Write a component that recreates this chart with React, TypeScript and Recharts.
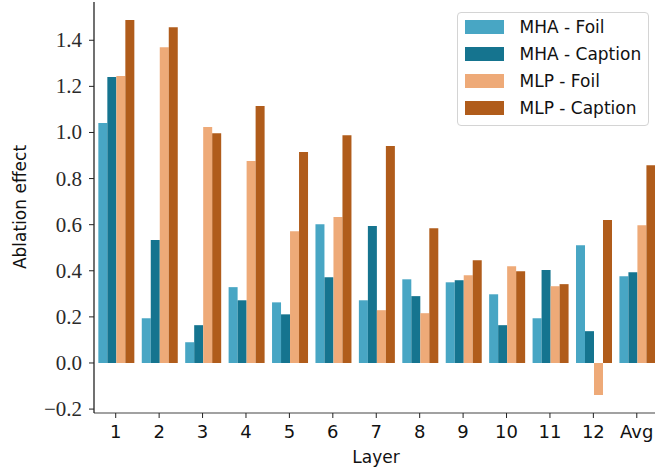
import React from 'react';
import { BarChart, Bar, XAxis, YAxis, Label } from 'recharts';

const layers = ['1', '2', '3', '4', '5', '6', '7', '8', '9', '10', '11', '12', 'Avg'];
const mhaFoil = [1.041, 0.194, 0.09, 0.329, 0.263, 0.602, 0.272, 0.363, 0.35, 0.298, 0.194, 0.511, 0.376];
const mhaCaption = [1.241, 0.533, 0.164, 0.272, 0.211, 0.372, 0.594, 0.29, 0.359, 0.164, 0.403, 0.138, 0.394];
const mlpFoil = [1.245, 1.37, 1.024, 0.876, 0.572, 0.633, 0.229, 0.216, 0.381, 0.42, 0.333, -0.139, 0.598];
const mlpCaption = [1.488, 1.457, 0.997, 1.115, 0.915, 0.988, 0.941, 0.585, 0.446, 0.398, 0.342, 0.62, 0.858];
const yTicks = [-0.2, 0, 0.2, 0.4, 0.6, 0.8, 1.0, 1.2, 1.4];

const series = [
  { key: 'mhaFoil', name: 'MHA - Foil', color: '#48a6c4' },
  { key: 'mhaCaption', name: 'MHA - Caption', color: '#15748f' },
  { key: 'mlpFoil', name: 'MLP - Foil', color: '#eeaa78' },
  { key: 'mlpCaption', name: 'MLP - Caption', color: '#b05c1b' },
];

const data = layers.map((layer, i) => ({
  layer,
  mhaFoil: mhaFoil[i],
  mhaCaption: mhaCaption[i],
  mlpFoil: mlpFoil[i],
  mlpCaption: mlpCaption[i],
}));

const sans = '"DejaVu Sans", sans-serif';
const serif = '"Liberation Serif", serif';

const fmtY = (v: number) => v.toFixed(1).replace('-', '\u2212');

// custom ticks so the fonts actually stick
function renderXTick(props: any) {
  const { x, y, payload } = props;
  return (
    <text x={x} y={y + 16} textAnchor="middle" style={{ fontSize: 18, fontFamily: sans, fill: '#111' }}>
      {payload.value}
    </text>
  );
}

function renderYTick(props: any) {
  const { x, y, payload } = props;
  return (
    <text x={x} y={y + 7} textAnchor="end" style={{ fontSize: 21, fontFamily: serif, fill: '#2a2a2a' }}>
      {fmtY(payload.value)}
    </text>
  );
}

export default function App() {
  return (
    <div style={{ position: 'absolute', left: 0, top: 0, width: 655, height: 473, overflow: 'hidden', background: '#fff' }}>
      <BarChart
        width={670}
        height={473}
        data={data}
        margin={{ top: 2, right: 11.5, left: 0, bottom: 0 }}
        barCategoryGap="10%"
        barGap={0}
      >
        <XAxis
          dataKey="layer"
          height={60}
          tickSize={5}
          tickMargin={4}
          tick={renderXTick}
          axisLine={{ stroke: '#444', strokeWidth: 1.2 }}
          tickLine={{ stroke: '#222' }}
          interval={0}
        >
          <Label
            content={() => (
              <text x={376} y={463} textAnchor="middle" style={{ fontSize: 17, fontFamily: sans, fill: '#111' }}>
                Layer
              </text>
            )}
          />
        </XAxis>
        <XAxis
          xAxisId="top"
          dataKey="layer"
          orientation="top"
          height={0}
          tick={false}
          tickLine={false}
          axisLine={{ stroke: '#444', strokeWidth: 1.2 }}
        />
        <YAxis
          width={94}
          domain={[-0.217, 1.566]}
          ticks={yTicks}
          tickSize={5}
          tickMargin={7}
          allowDataOverflow
          tick={renderYTick}
          axisLine={{ stroke: '#111', strokeWidth: 1.2 }}
          tickLine={{ stroke: '#222' }}
        >
          <Label
            content={() => (
              <text
                x={26}
                y={207}
                textAnchor="middle"
                transform="rotate(-90 26 207)"
                style={{ fontSize: 17, fontFamily: sans, fill: '#111' }}
              >
                Ablation effect
              </text>
            )}
          />
        </YAxis>
        {series.map((s) => (
          <Bar key={s.key} dataKey={s.key} name={s.name} fill={s.color} isAnimationActive={false} />
        ))}
      </BarChart>
      <div
        style={{
          position: 'absolute',
          left: 456.5,
          top: 11.5,
          width: 190,
          height: 112,
          border: '1px solid #d4d4d4',
          borderRadius: 4,
          background: 'rgba(255,255,255,0.8)',
          boxSizing: 'content-box',
        }}
      >
        {series.map((s, i) => (
          <div
            key={s.key}
            style={{
              position: 'absolute',
              left: 7,
              top: 7.5 + i * 27.1,
              height: 14,
              display: 'flex',
              alignItems: 'center',
              whiteSpace: 'nowrap',
            }}
          >
            <span style={{ display: 'inline-block', width: 39, height: 14, background: s.color }} />
            <span style={{ marginLeft: 16, fontSize: 17, fontFamily: sans, color: '#111', lineHeight: '14px' }}>
              {s.name}
            </span>
          </div>
        ))}
      </div>
    </div>
  );
}
